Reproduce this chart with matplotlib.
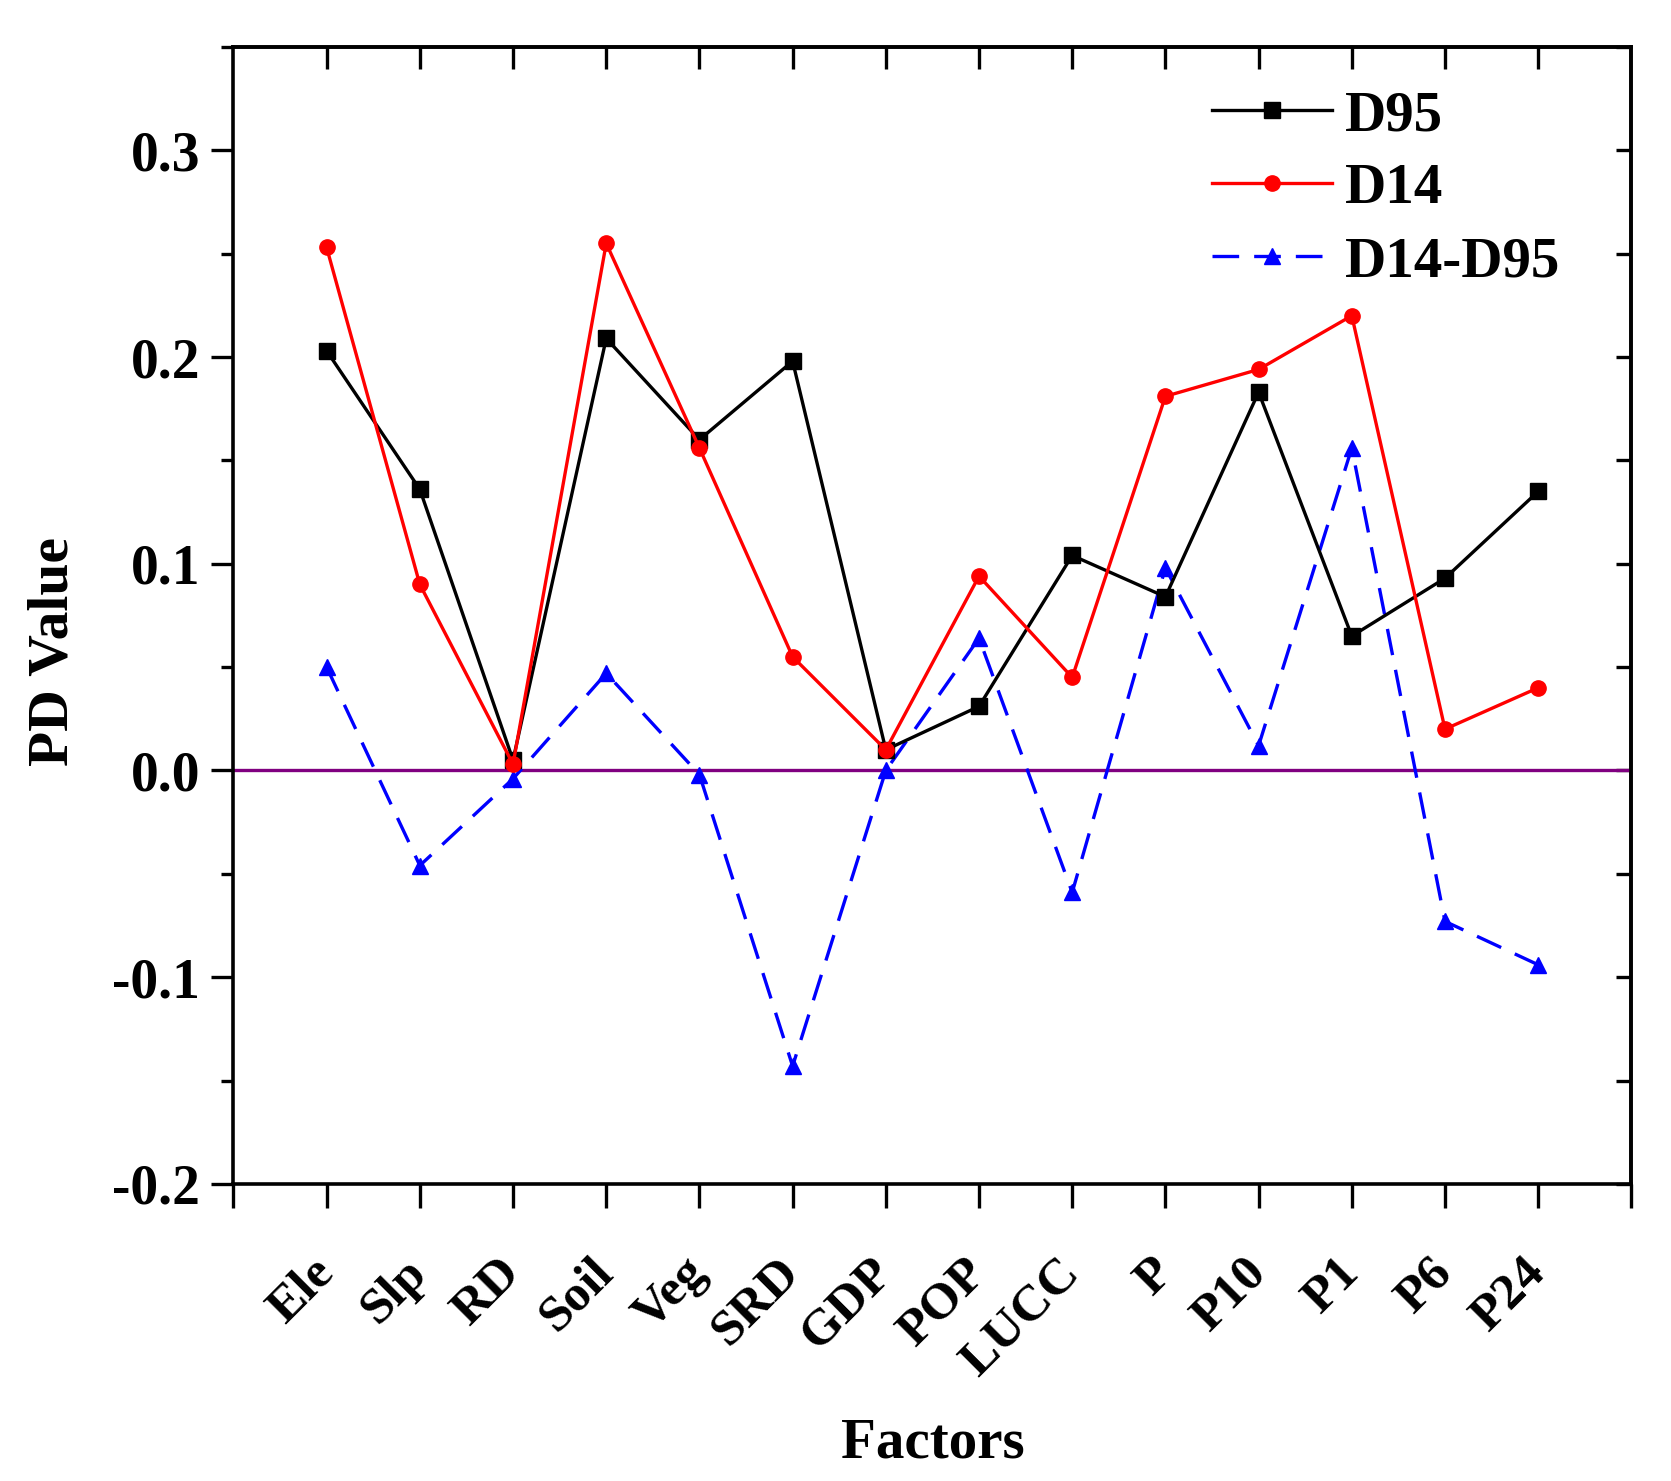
import matplotlib
matplotlib.use("Agg")
import matplotlib.pyplot as plt
from matplotlib.ticker import MultipleLocator, FixedLocator

plt.rcParams['font.family'] = ['Liberation Serif', 'DejaVu Serif']
plt.rcParams['font.weight'] = 'bold'
plt.rcParams['axes.unicode_minus'] = False

factors = ["Ele", "Slp", "RD", "Soil", "Veg", "SRD", "GDP", "POP", "LUCC",
           "P", "P10", "P1", "P6", "P24"]
d95 = [0.203, 0.136, 0.005, 0.209, 0.160, 0.198, 0.010, 0.031, 0.104,
       0.084, 0.183, 0.065, 0.093, 0.135]
d14 = [0.253, 0.090, 0.003, 0.255, 0.156, 0.055, 0.010, 0.094, 0.045,
       0.181, 0.194, 0.220, 0.020, 0.040]
diff = [0.050, -0.046, -0.004, 0.047, -0.002, -0.143, 0.000, 0.064, -0.059,
        0.098, 0.012, 0.156, -0.073, -0.094]
yticks = [-0.2, -0.1, 0.0, 0.1, 0.2, 0.3]

x = list(range(1, len(factors) + 1))

fig = plt.figure(figsize=(16.71, 14.81), dpi=100)
ax = fig.add_axes([0.1397, 0.2006, 0.8366, 0.7677])

ax.axhline(0, color='#800080', lw=2.4, zorder=1)
ax.plot(x, d95, color='black', lw=2.4, marker='s', ms=11, label='D95', zorder=3)
ax.plot(x, d14, color='red', lw=2.4, marker='o', ms=11, label='D14', zorder=3)
ax.plot(x, diff, color='blue', lw=2.4, ls=(0, (8, 4.5)), marker='^', ms=11,
        label='D14-D95', zorder=2)

ax.set_xlim(0, len(factors) + 1)
ax.set_ylim(-0.2, 0.35)

for s in ax.spines.values():
    s.set_linewidth(2.6)

# y axis (left, outward)
ax.yaxis.set_major_locator(FixedLocator(yticks))
ax.set_yticklabels([f"{v:.1f}" for v in yticks])
ax.yaxis.set_minor_locator(MultipleLocator(0.05))
ax.tick_params(axis='y', which='major', direction='out', length=16, width=2.4,
               labelsize=40, pad=8)
ax.tick_params(axis='y', which='minor', direction='out', length=9, width=2.4)

# x axis (bottom, outward)
ax.set_xticks(list(range(0, len(factors) + 2)))
ax.set_xticklabels([''] + factors + [''], rotation=45, ha='right', va='center',
                   rotation_mode='anchor')
ax.tick_params(axis='x', which='major', direction='out', length=17, width=2.4,
               labelsize=37, pad=42)

# top and right: inward ticks
sx = ax.secondary_xaxis('top')
sx.set_xticks(x)
sx.tick_params(direction='in', length=16, width=2.4, labeltop=False)
sx.spines['top'].set_linewidth(2.6)
sy = ax.secondary_yaxis('right')
sy.yaxis.set_major_locator(FixedLocator(yticks))
sy.yaxis.set_minor_locator(MultipleLocator(0.05))
sy.tick_params(which='both', direction='in', length=11, width=2.4, labelright=False)
sy.spines['right'].set_linewidth(2.6)

ax.set_ylabel('PD Value', fontsize=41.5, fontweight='bold')
ax.yaxis.set_label_coords(-0.110, 0.468)
ax.set_xlabel('Factors', fontsize=41, fontweight='bold', labelpad=23)

leg = ax.legend(loc='upper left', bbox_to_anchor=(0.684, 0.982), frameon=False,
                fontsize=41, handlelength=2.1, handletextpad=0.22,
                labelspacing=0.37, borderaxespad=0)

fig.savefig('out.png', dpi=100)
